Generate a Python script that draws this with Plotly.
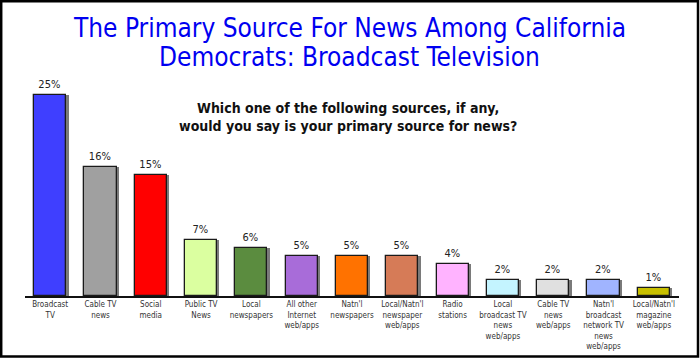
import plotly.graph_objects as go

categories = [
    "Broadcast<br>TV", "Cable TV<br>news", "Social<br>media", "Public TV<br>News",
    "Local<br>newspapers", "All other<br>Internet<br>web/apps", "Natn'l<br>newspapers",
    "Local/Natn'l<br>newspaper<br>web/apps", "Radio<br>stations",
    "Local<br>broadcast TV<br>news<br>web/apps", "Cable TV<br>news<br>web/apps",
    "Natn'l<br>broadcast<br>network TV<br>news<br>web/apps", "Local/Natn'l<br>magazine<br>web/apps",
]
values = [25, 16, 15, 7, 6, 5, 5, 5, 4, 2, 2, 2, 1]
bar_colors = [
    "#3F3FFF", "#A0A0A0", "#FF0000", "#DBFFA0", "#5B8C3F", "#A86CD9", "#FF7200",
    "#D67B57", "#FFB3FF", "#C4F4FF", "#E0E0E0", "#A0B4FF", "#C8C000",
]
title_lines = ["The Primary Source For News Among California", "Democrats: Broadcast Television"]
subtitle_lines = ["Which one of the following sources, if any,", "would you say is your primary source for news?"]

W, H = 700, 358
ML, MR, MT, MB = 25, 21, 80, 62
PW, PH = W - ML - MR, H - MT - MB

def px(x):
    return (x - ML) / PW

def py(y):
    return 1 - (y - MT) / PH

idx = list(range(len(categories)))
BW = 0.64
label_txt = [f"{v}%" for v in values]
FONT = "DejaVu Sans Condensed, DejaVu Sans"

fig = go.Figure()
fig.add_trace(go.Bar(
    x=idx, y=values, width=BW, offset=-BW / 2 + 0.045,
    marker=dict(color="#7a7a7a", line=dict(width=0)),
    hoverinfo="skip", showlegend=False,
))
fig.add_trace(go.Bar(
    x=idx, y=values, width=BW, offset=-BW / 2,
    marker=dict(color=bar_colors, line=dict(color="#1a1a1a", width=1.3)),
    text=label_txt, textposition="outside", cliponaxis=False,
    textfont=dict(family=FONT, size=11, color="#222222"),
    showlegend=False,
))

ann = []
for i, t in enumerate(title_lines):
    ann.append(dict(text=t, xref="paper", yref="paper", x=px(349), y=py(28.5 + 29 * i),
                    xanchor="center", yanchor="middle", showarrow=False,
                    font=dict(family=FONT, size=26, color="#0000F0")))
for i, t in enumerate(subtitle_lines):
    ann.append(dict(text="<b>" + t + "</b>", xref="paper", yref="paper", x=px(348), y=py(108 + 18 * i),
                    xanchor="center", yanchor="middle", showarrow=False,
                    font=dict(family=FONT, size=14, color="#111111")))

fig.update_layout(
    template="none",
    width=W, height=H, autosize=False, margin=dict(l=ML, r=MR, t=MT, b=MB, pad=0),
    paper_bgcolor="white", plot_bgcolor="white",
    bargap=0, barmode="overlay",
    annotations=ann,
    shapes=[dict(type="rect", xref="paper", yref="paper",
                 x0=px(1.2), x1=px(698), y0=py(356.5), y1=py(1.2),
                 line=dict(color="black", width=2.5), layer="above")],
    xaxis=dict(range=[-0.5, len(categories) - 0.5], tickvals=idx, ticktext=categories,
               tickangle=0, showline=True, linecolor="#111111", linewidth=1.5,
               showgrid=False, zeroline=False, ticks="", ticklabelstandoff=0,
               automargin=False,
               tickfont=dict(family=FONT, size=8, color="#333333")),
    yaxis=dict(range=[0, 26.87], visible=False, showgrid=False, zeroline=False,
               automargin=False),
)

post = (
    "document.body.style.margin='0';"
    "document.body.style.overflow='hidden';"
)
fig.write_html("out.html", config={"displayModeBar": False, "responsive": False},
               post_script=post)
